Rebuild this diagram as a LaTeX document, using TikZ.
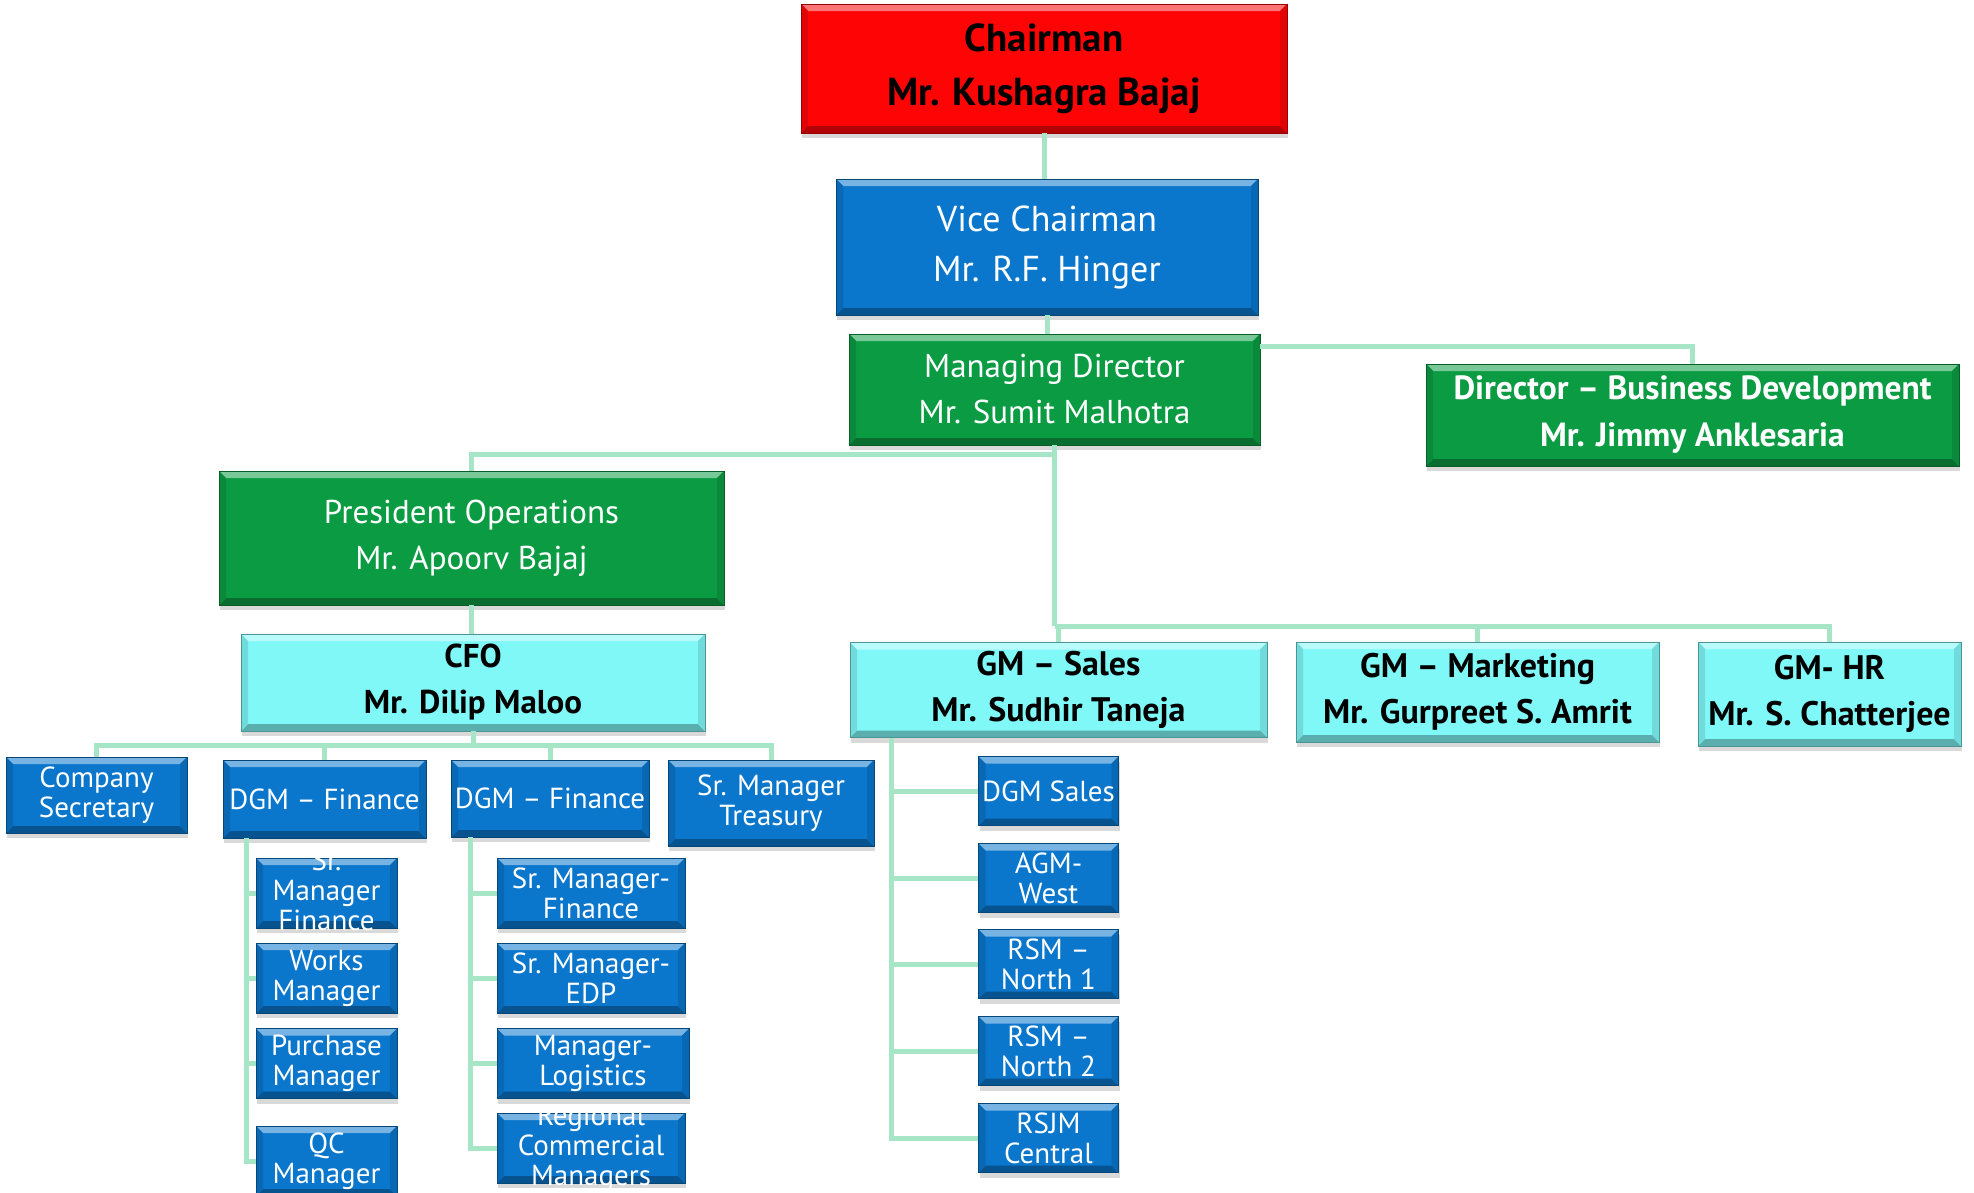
\documentclass[tikz,border=0pt]{standalone}
\usepackage{fontspec}
\setmainfont{PT Sans}
\usetikzlibrary{shadows}

\definecolor{chairred}{HTML}{FE0404}
\definecolor{orgblue}{HTML}{0A76CC}
\definecolor{orggreen}{HTML}{0B9C43}
\definecolor{orgcyan}{HTML}{80F8F8}
\definecolor{linkgreen}{HTML}{A6E6C6}

% text that runs out of its box
\newcommand{\spill}[1]{\smash{\raisebox{-7.5pt}{\begin{tabular}{@{}c@{}}#1\end{tabular}}}}

\tikzset{
  orgbox/.style={fill=#1, draw=#1!60!black, line width=0.8pt, inner sep=0pt, align=center,
    drop shadow={shadow xshift=1pt, shadow yshift=-5pt, opacity=0.3},
    path picture={
      \coordinate (pnw) at (path picture bounding box.north west);
      \coordinate (pne) at (path picture bounding box.north east);
      \coordinate (psw) at (path picture bounding box.south west);
      \coordinate (pse) at (path picture bounding box.south east);
      \fill[#1!55!white] (pnw) -- (pne) -- ([shift={(-7pt,-7pt)}]pne) -- ([shift={(7pt,-7pt)}]pnw) -- cycle;
      \fill[#1!70!black] (psw) -- (pse) -- ([shift={(-7pt,7pt)}]pse) -- ([shift={(7pt,7pt)}]psw) -- cycle;
      \fill[#1!88!black] (pnw) -- ([shift={(7pt,-7pt)}]pnw) -- ([shift={(7pt,7pt)}]psw) -- (psw) -- cycle;
      \fill[#1!88!black] (pne) -- ([shift={(-7pt,-7pt)}]pne) -- ([shift={(-7pt,7pt)}]pse) -- (pse) -- cycle;
    }},
  redbox/.style={orgbox=chairred, text=black, font=\bfseries\fontsize{39}{54}\selectfont},
  bluebig/.style={orgbox=orgblue, text=white, font=\fontsize{36}{50}\selectfont},
  greenbox/.style={orgbox=orggreen, text=white, font=\fontsize{33}{46}\selectfont},
  greenbold/.style={greenbox, font=\bfseries\fontsize{33.5}{47}\selectfont},
  cyanbox/.style={orgbox=orgcyan, text=black, font=\bfseries\fontsize{33}{46}\selectfont},
  gmbox/.style={cyanbox, font=\bfseries\fontsize{34}{46}\selectfont},
  leaf/.style={orgbox=orgblue, text=white, font=\fontsize{29}{30}\selectfont},
  leafa/.style={leaf, minimum width=141pt, minimum height=70pt},
  leafb/.style={leaf, minimum width=188pt, minimum height=70pt},
  leafs/.style={leaf, minimum width=140pt, minimum height=69pt},
  link/.style={draw=linkgreen, line width=5pt}
}

\begin{document}
\begin{tikzpicture}[x=1pt, y=-1pt]
  % page frame
  \useasboundingbox (0,0) rectangle (1974,1192);

  % Column positions
  \def\colA{326.5} \def\colB{591} \def\colS{1048.5}

  % Top of the chart
  \node[redbox, minimum width=486pt, minimum height=129pt] (chair) at (1044,68.5) {Chairman\\Mr. Kushagra Bajaj};
  \node[bluebig, minimum width=422pt, minimum height=136pt] (vice) at (1047,247) {Vice Chairman\\Mr. R.F. Hinger};
  \node[greenbox, minimum width=411pt, minimum height=111pt] (md) at (1054.5,389.5) {Managing Director\\Mr. Sumit Malhotra};
  \node[greenbold, minimum width=533pt, minimum height=102pt] (dirbd) at (1692.5,415) {Director -- Business Development\\Mr. Jimmy Anklesaria};
  \node[greenbox, minimum width=505pt, minimum height=134pt] (pres) at (471.5,538) {President Operations\\Mr. Apoorv Bajaj};

  % Finance side
  \node[cyanbox, minimum width=464pt, minimum height=97pt] (cfo) at (473,682.5) {CFO\\Mr. Dilip Maloo};
  \node[leaf, minimum width=181pt, minimum height=76pt] (cosec) at (96.5,795) {Company\\Secretary};
  \node[leaf, minimum width=203pt, minimum height=78pt] (dgmfa) at (324.5,799) {DGM -- Finance};
  \node[leaf, minimum width=198pt, minimum height=77pt] (dgmfb) at (550,798.5) {DGM -- Finance};
  \node[leaf, minimum width=206pt, minimum height=86pt] (treas) at (771,803) {Sr. Manager\\Treasury};

  \node[leafa] (smfa) at (\colA,893) {\spill{Sr.\\Manager\\Finance}};
  \node[leafa] (works) at (\colA,978) {Works\\Manager};
  \node[leafa] (purch) at (\colA,1063.5) {Purchase\\Manager};
  \node[leafa] (qc) at (\colA,1161) {QC\\Manager};

  \node[leafb] (smfb) at (\colB,893) {Sr. Manager-\\Finance};
  \node[leafb] (edp) at (\colB,978) {Sr. Manager-\\EDP};
  \node[leafb, minimum width=192pt] (logi) at (593,1063.5) {Manager-\\Logistics};
  \node[leafb] (rcm) at (\colB,1148) {\spill{Regional\\Commercial\\Managers}};

  % GM row
  \node[gmbox, minimum width=417pt, minimum height=95pt] (gmsales) at (1058.5,690) {GM -- Sales\\Mr. Sudhir Taneja};
  \node[gmbox, minimum width=363pt, minimum height=100pt] (gmmkt) at (1477.5,692) {GM -- Marketing\\Mr. Gurpreet S. Amrit};
  \node[gmbox, minimum width=263pt, minimum height=104pt] (gmhr) at (1829.5,694) {GM- HR\\Mr. S. Chatterjee};

  \node[leafs] (dgms) at (\colS,791) {DGM Sales};
  \node[leafs] (agm) at (\colS,878) {AGM-\\West};
  \node[leafs] (rsmone) at (\colS,964) {RSM --\\North 1};
  \node[leafs] (rsmtwo) at (\colS,1051) {RSM --\\North 2};
  \node[leafs] (rsjm) at (\colS,1138) {RSJM\\Central};

  % Connectors
  \draw[link] (chair.south) -- (chair.south |- vice.north);
  \draw[link] (vice.south) -- (vice.south |- md.north);
  \draw[link] ([yshift=-13pt]md.north east) -| (dirbd.north);
  \draw[link] (md.south) -- ++(0,9) -| (pres.north);
  \draw[link] (pres.south) -- (pres.south |- cfo.north);

  \coordinate (gmbus) at (1054.5,626);
  \draw[link] (md.south) -- (gmbus);
  \foreach \n in {gmsales, gmmkt, gmhr}
    \draw[link] (gmbus) -| (\n.north);

  \draw[link] (cfo.south) -- ++(0,14) coordinate (cfobus);
  \foreach \n in {cosec, dgmfa, dgmfb, treas}
    \draw[link] (cfobus) -| (\n.north);

  \foreach \n in {smfa, works, purch, qc}
    \draw[link] ([xshift=24pt]dgmfa.south west) |- (\n.west);
  \foreach \n in {smfb, edp, logi, rcm}
    \draw[link] ([xshift=20pt]dgmfb.south west) |- (\n.west);
  \foreach \n in {dgms, agm, rsmone, rsmtwo, rsjm}
    \draw[link] ([xshift=42pt]gmsales.south west) |- (\n.west);
\end{tikzpicture}
\end{document}
